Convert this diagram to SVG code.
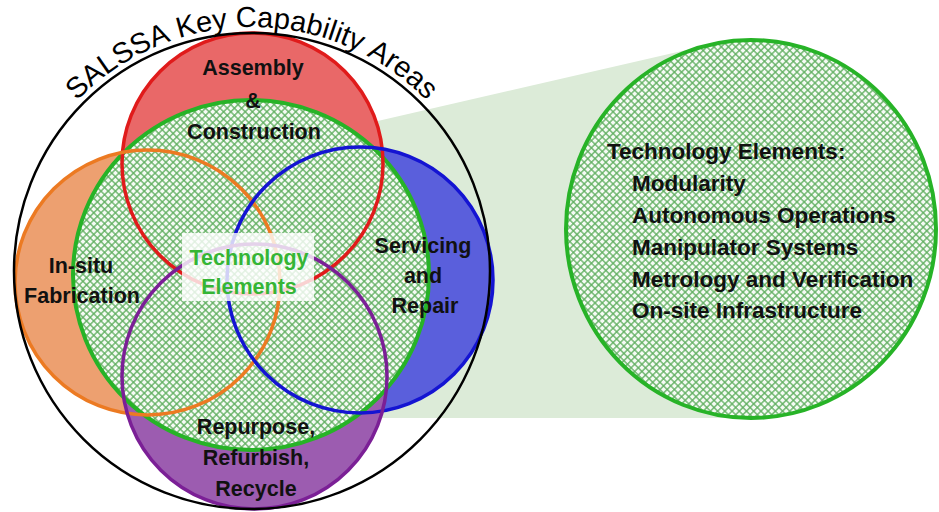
<svg xmlns="http://www.w3.org/2000/svg" xmlns:xlink="http://www.w3.org/1999/xlink" width="939" height="512" viewBox="0 0 939 512">
  <style>
    .lbl { font-family: "Liberation Sans", Arial, sans-serif; font-weight: bold; font-size: 21.5px; fill: #111; text-anchor: middle; }
    .list { font-family: "Liberation Sans", Arial, sans-serif; font-weight: bold; font-size: 22.5px; fill: #111; }
    .title { font-family: "Liberation Sans", Arial, sans-serif; font-size: 29px; fill: #000; }
    .tech { font-family: "Liberation Sans", Arial, sans-serif; font-weight: bold; font-size: 21.5px; fill: #35b535; text-anchor: middle; }
    .ring { fill: none; stroke-width: 3.5; }
    .green-edge { fill: none; stroke: #27b327; stroke-width: 4; }
  </style>
  <defs>
    <!-- diagonal cross-hatch used for the technology-element discs -->
    <pattern id="hatch" width="5.1" height="5.1" patternUnits="userSpaceOnUse" patternTransform="rotate(45)">
      <rect width="5.1" height="5.1" fill="#f6fbf5"/>
      <path d="M0,2.55 H5.1 M2.55,0 V5.1" stroke="#5fae5f" stroke-width="1.3"/>
    </pattern>
    <!-- baseline arc for the outer title, running left to right over the top -->
    <path id="titleArc" d="M 8,271 A 244,244 0 0 1 496,271" fill="none"/>
  </defs>

  <rect width="939" height="512" fill="#ffffff"/>

  <!-- callout wedge linking the central disc to the detail disc -->
  <g id="connectors">
    <polygon points="330,132 708,45 751,229 751,418 330,418" fill="#dcebd8"/>
  </g>

  <!-- capability area fills -->
  <g id="fills">
    <circle cx="252.5" cy="163.5" r="130.5" fill="#e96868"/>
    <circle cx="147.5" cy="282.5" r="132.5" fill="#eda070"/>
    <circle cx="360" cy="280" r="133" fill="#5a5fdc"/>
    <circle cx="254.5" cy="376.5" r="132.5" fill="#9c5cb0"/>
  </g>

  <!-- technology elements disc (centre) -->
  <g id="tech-core">
    <ellipse cx="251" cy="275" rx="178" ry="175" fill="url(#hatch)"/>
    <ellipse class="green-edge" cx="251" cy="275" rx="178" ry="175"/>
  </g>

  <!-- capability area outlines and names -->
  <g id="assembly">
    <circle class="ring" cx="252.5" cy="163.5" r="130.5" stroke="#e01b1b"/>
    <text class="lbl" x="253" y="75">Assembly</text>
    <text class="lbl" x="253" y="108">&amp;</text>
    <text class="lbl" x="254" y="139">Construction</text>
  </g>
  <g id="fabrication">
    <circle class="ring" cx="147.5" cy="282.5" r="132.5" stroke="#ec7a22"/>
    <text class="lbl" x="81" y="273">In-situ</text>
    <text class="lbl" x="82" y="303">Fabrication</text>
  </g>
  <g id="servicing">
    <circle class="ring" cx="360" cy="280" r="133" stroke="#1414d2"/>
    <text class="lbl" x="423" y="253">Servicing</text>
    <text class="lbl" x="423" y="283">and</text>
    <text class="lbl" x="425" y="313">Repair</text>
  </g>
  <g id="repurpose">
    <circle class="ring" cx="254.5" cy="376.5" r="132.5" stroke="#7b1f96"/>
    <text class="lbl" x="256" y="434">Repurpose,</text>
    <text class="lbl" x="256" y="465">Refurbish,</text>
    <text class="lbl" x="256" y="496">Recycle</text>
  </g>

  <!-- outer boundary and its curved title (one word per run along the arc) -->
  <g id="capability-areas">
    <circle cx="252" cy="271" r="238" fill="none" stroke="#000" stroke-width="2.5"/>
    <text class="title"><textPath href="#titleArc" xlink:href="#titleArc" startOffset="188">SALSSA</textPath></text>
    <text class="title"><textPath href="#titleArc" xlink:href="#titleArc" startOffset="309">Key</textPath></text>
    <text class="title"><textPath href="#titleArc" xlink:href="#titleArc" startOffset="367">Capability</textPath></text>
    <text class="title"><textPath href="#titleArc" xlink:href="#titleArc" startOffset="502">Areas</textPath></text>
  </g>

  <!-- central label -->
  <g id="tech-label">
    <rect x="182" y="233" width="132" height="68" fill="#ffffff" fill-opacity="0.8"/>
    <text class="tech" x="249" y="265">Technology</text>
    <text class="tech" x="249" y="294">Elements</text>
  </g>

  <!-- detail disc listing the technology elements -->
  <g id="tech-detail">
    <ellipse cx="751" cy="229" rx="185" ry="189" fill="url(#hatch)"/>
    <ellipse class="green-edge" cx="751" cy="229" rx="185" ry="189"/>
    <text class="list" x="607" y="159">Technology Elements:</text>
    <text class="list" x="632" y="191">Modularity</text>
    <text class="list" x="632" y="223">Autonomous Operations</text>
    <text class="list" x="632" y="255">Manipulator Systems</text>
    <text class="list" x="632" y="287">Metrology and Verification</text>
    <text class="list" x="632" y="318">On-site Infrastructure</text>
  </g>
</svg>
